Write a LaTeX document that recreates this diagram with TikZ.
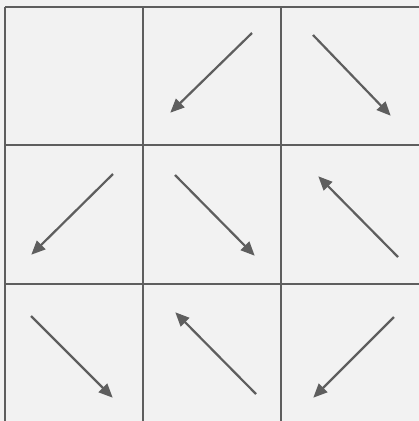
\documentclass[tikz,border=0pt]{standalone}
\usetikzlibrary{arrows.meta}
\definecolor{bg}{HTML}{F2F2F2}
\definecolor{ink}{HTML}{5E5E5E}
\tikzset{
  gridline/.style={draw=ink, line width=2pt},
  dirarrow/.style={draw=ink, line width=2.2pt, -{Triangle[length=14pt,width=12pt]}, shorten >=-1pt}
}
\begin{document}
\begin{tikzpicture}[x=1pt,y=-1pt]
\fill[bg] (0,0) rectangle (419,421);
\useasboundingbox (0,0) rectangle (419,421);
% grid
\foreach \x in {5,143,281} \draw[gridline] (\x,7) -- (\x,421);
\foreach \y in {7,145,284} \draw[gridline] (5,\y) -- (419,\y);
% arrow end points
\coordinate (a1t) at (252,33);  \coordinate (a1h) at (171,112);
\coordinate (a2t) at (313,35);  \coordinate (a2h) at (390,115);
\coordinate (a3t) at (113,174); \coordinate (a3h) at (32,254);
\coordinate (a4t) at (175,175); \coordinate (a4h) at (254,255);
\coordinate (a5t) at (398,257); \coordinate (a5h) at (319,177);
\coordinate (a6t) at (31,316);  \coordinate (a6h) at (112,397);
\coordinate (a7t) at (256,394); \coordinate (a7h) at (176,313);
\coordinate (a8t) at (394,317); \coordinate (a8h) at (314,397);
\foreach \i in {1,...,8} \draw[dirarrow] (a\i t) -- (a\i h);
\end{tikzpicture}
\end{document}
